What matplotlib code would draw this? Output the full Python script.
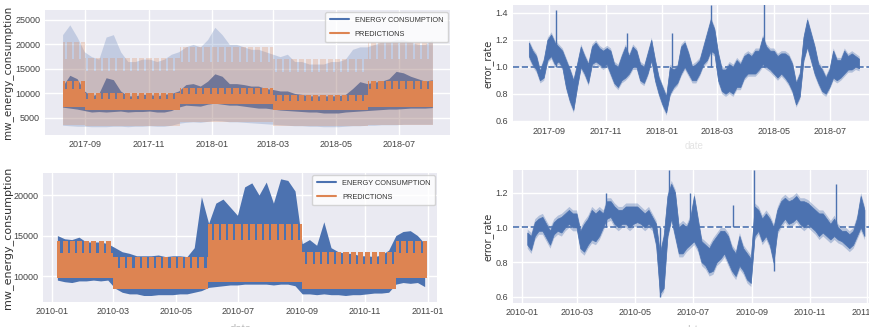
import matplotlib
matplotlib.use('Agg')
import matplotlib.pyplot as plt
import matplotlib.dates as mdates
from matplotlib.lines import Line2D
import numpy as np
import pandas as pd
import seaborn as sns

# ---------------- data ----------------
# top-left: weekly consumption (2017-08-10 .. 2018-08-02)
top_week_start = '2017-08-10'
top_cons_hi = [11500, 13700, 13000, 10500, 9500, 10000, 13200, 12800, 10500, 9500,
               9500, 9800, 9800, 9500, 9800, 10000, 10500, 11800, 12000, 11500,
               12500, 14000, 13500, 12000, 12000, 11800, 11500, 11500, 11000, 10800,
               10500, 10500, 10000, 9800, 9500, 9500, 9500, 9500, 9500, 9800,
               11000, 12400, 12000, 12300, 12500, 13000, 14500, 14200, 13500, 13000,
               12500, 12800]
top_cons_lo = [7200, 7000, 6800, 6500, 6200, 6300, 6200, 6300, 6400, 6200,
               6300, 6300, 6400, 6200, 6200, 6500, 7200, 7600, 7500, 7400,
               7800, 8000, 7800, 7600, 7600, 7400, 7200, 7000, 7000, 6800,
               6600, 6500, 6400, 6300, 6200, 6200, 6000, 6000, 6000, 6200,
               6300, 6400, 6500, 6600, 6700, 6800, 6800, 6900, 7000, 7000,
               7000, 7100]
top_band_hi = [22000, 24000, 21500, 18500, 17500, 17000, 21500, 22000, 18500, 16500,
               16500, 17000, 17000, 16500, 17000, 18000, 18500, 19500, 20000, 19500,
               21000, 23500, 22000, 20000, 20000, 19500, 19000, 19000, 18500, 18000,
               17500, 18000, 16500, 16500, 16000, 16000, 16000, 16500, 16500, 17000,
               19000, 19500, 19500, 20000, 20500, 20500, 21000, 21000, 20500, 20000,
               20000, 21000]
top_band_lo = [3500, 3400, 3300, 3300, 3200, 3200, 3200, 3300, 3300, 3200,
               3300, 3300, 3400, 3300, 3300, 3500, 3900, 4100, 4200, 4100,
               4300, 4500, 4400, 4200, 4200, 4100, 4000, 3900, 3800, 3700,
               3600, 3500, 3400, 3400, 3300, 3300, 3200, 3200, 3200, 3300,
               3400, 3400, 3500, 3500, 3600, 3600, 3600, 3700, 3700, 3700,
               3700, 3700]
# top-left: seasonal prediction profile
top_seasons = ['2017-08-10', '2017-09-01', '2017-12-01', '2018-03-01', '2018-06-01', '2018-08-03']
top_pred_top = [12600, 10000, 11200, 9700, 12600]
top_pred_notch = [11000, 8800, 9900, 8500, 11000]
top_pred_bottom = [7200, 6600, 7800, 6600, 7300]
top_pband_top = [20500, 17200, 19500, 17000, 20500]
top_pband_notch = [17000, 14500, 16500, 14300, 17000]
top_pband_bottom = [3600, 3300, 4200, 3400, 3600]

# bottom-left: weekly consumption (2010-01-06 .. 2010-12-29)
bot_week_start = '2010-01-06'
bot_cons_hi = [15000, 14600, 14500, 14800, 14200, 14200, 14200, 14000, 13500, 13000,
               12800, 12500, 12500, 12500, 12600, 12400, 12500, 12500, 12400, 13500,
               19800, 16500, 19000, 19500, 18500, 17500, 21000, 21500, 20000, 21600,
               19000, 22000, 21800, 20500, 14000, 14500, 13800, 16700, 13500, 13000,
               12800, 12800, 12500, 12500, 12400, 12600, 13200, 15000, 15500, 15600,
               15000, 14000]
bot_cons_lo = [9500, 9300, 9200, 9400, 9400, 9500, 9400, 9500, 8500, 8000,
               7800, 7800, 7600, 7600, 7700, 7700, 7700, 7800, 7800, 8000,
               8200, 8600, 8700, 8800, 8900, 8900, 9000, 9000, 9000, 9000,
               8900, 9000, 9000, 8800, 7800, 7800, 7700, 7800, 7700, 7700,
               7600, 7700, 7700, 7800, 7900, 7900, 8000, 9000, 9200, 9100,
               9200, 8700]
bot_seasons = ['2010-01-06', '2010-03-01', '2010-06-01', '2010-09-01', '2010-12-01', '2010-12-31']
bot_pred_top = [14300, 12400, 16400, 13000, 14300]
bot_pred_notch = [12800, 11000, 14400, 11500, 12800]
bot_pred_bottom = [9800, 8400, 9300, 8400, 9800]

# top-right: error rate, every 4 days from 2017-08-10
top_err_start = '2017-08-10'
top_err_lo = [1.08, 1.02, 0.98, 0.90, 0.92, 1.05, 1.08, 1.02, 1.04, 1.00,
              0.85, 0.75, 0.68, 0.85, 1.00, 0.95, 0.88, 1.02, 1.04, 1.02,
              1.00, 1.02, 0.95, 0.88, 0.85, 0.90, 0.92, 0.95, 1.00, 1.00,
              0.90, 0.88, 0.95, 1.05, 0.90, 0.80, 0.72, 0.66, 0.80, 0.85,
              0.88, 0.95, 1.00, 0.95, 0.90, 0.90, 0.95, 1.02, 1.05, 1.12,
              1.10, 0.90, 0.82, 0.80, 0.82, 0.80, 0.85, 0.85, 0.92, 0.95,
              0.95, 0.95, 0.98, 1.02, 1.00, 0.98, 0.95, 0.92, 0.95, 0.92,
              0.88, 0.82, 0.72, 0.78, 1.05, 1.15, 1.05, 0.95, 0.88, 0.82,
              0.80, 0.85, 0.92, 0.90, 0.92, 0.95, 0.98, 0.98, 1.00, 0.99]
top_err_hi = [1.18, 1.12, 1.08, 0.97, 1.05, 1.20, 1.24, 1.18, 1.15, 1.12,
              1.05, 0.98, 0.90, 1.02, 1.15, 1.08, 1.02, 1.15, 1.18, 1.14,
              1.12, 1.14, 1.12, 1.02, 1.00, 1.08, 1.15, 1.08, 1.15, 1.12,
              1.02, 1.00, 1.10, 1.20, 1.05, 0.92, 0.85, 0.78, 1.00, 0.98,
              1.00, 1.15, 1.18, 1.10, 1.00, 1.02, 1.05, 1.15, 1.25, 1.35,
              1.28, 1.10, 0.98, 0.98, 1.02, 1.00, 1.05, 1.02, 1.08, 1.10,
              1.08, 1.12, 1.12, 1.22, 1.15, 1.12, 1.12, 1.08, 1.10, 1.10,
              1.08, 1.02, 0.88, 0.95, 1.22, 1.35, 1.25, 1.15, 1.02, 0.98,
              0.92, 0.98, 1.12, 1.05, 1.05, 1.12, 1.08, 1.10, 1.08, 1.06]
top_spike_dates = ['2017-09-08', '2017-11-24', '2018-01-11', '2018-02-22', '2018-04-20']
top_spike_vals = [1.42, 1.25, 1.25, 1.46, 1.52]

# bottom-right: error rate, every 4 days from 2010-01-07
bot_err_start = '2010-01-07'
bot_err_lo = [0.90, 0.87, 0.95, 0.98, 0.98, 0.94, 0.90, 0.96, 0.98, 0.97,
              1.00, 1.02, 1.00, 1.00, 0.88, 0.86, 0.90, 0.93, 0.92, 0.95,
              1.00, 1.05, 1.06, 1.02, 1.00, 1.02, 1.02, 1.00, 1.02, 1.03,
              1.02, 1.00, 1.02, 1.00, 0.90, 0.62, 0.65, 0.95, 1.05, 0.95,
              0.85, 0.85, 0.88, 0.90, 0.92, 0.88, 0.80, 0.78, 0.74, 0.75,
              0.80, 0.82, 0.85, 0.80, 0.75, 0.72, 0.78, 0.75, 0.70, 0.68,
              0.95, 0.98, 0.92, 0.95, 0.90, 0.80, 0.98, 1.02, 1.05, 1.02,
              1.03, 1.05, 1.02, 1.00, 1.02, 1.00, 0.98, 0.95, 0.97, 0.95,
              0.93, 0.95, 0.93, 0.92, 0.90, 0.88, 0.90, 0.95, 1.00, 0.95]
bot_err_hi = [0.97, 0.95, 1.03, 1.05, 1.06, 1.02, 0.98, 1.03, 1.05, 1.06,
              1.08, 1.10, 1.08, 1.08, 0.98, 1.02, 1.05, 1.10, 1.08, 1.10,
              1.08, 1.15, 1.15, 1.12, 1.10, 1.10, 1.12, 1.12, 1.12, 1.12,
              1.10, 1.08, 1.10, 1.06, 1.02, 0.85, 0.95, 1.18, 1.25, 1.20,
              1.00, 1.02, 1.00, 1.05, 1.18, 1.05, 0.92, 0.90, 0.88, 0.92,
              0.95, 0.98, 0.98, 0.95, 0.88, 0.85, 0.95, 0.88, 0.85, 0.82,
              1.12, 1.10, 1.05, 1.08, 1.05, 1.00, 1.10, 1.15, 1.17, 1.15,
              1.16, 1.18, 1.15, 1.15, 1.14, 1.12, 1.10, 1.08, 1.08, 1.05,
              1.02, 1.05, 1.00, 0.98, 0.98, 0.96, 0.98, 1.05, 1.18, 1.10]
bot_spike_dates = ['2010-03-31', '2010-05-27', '2010-06-06', '2010-06-28', '2010-08-12',
                   '2010-09-03', '2010-09-25', '2010-11-29']
bot_spike_vals = [1.20, 0.60, 1.33, 1.20, 1.13, 1.33, 0.75, 1.25]

BLUE = '#4C72B0'
ORANGE = '#DD8452'

sns.set_theme(style='darkgrid')
plt.rcParams['font.family'] = ['Liberation Sans', 'DejaVu Sans']
plt.rcParams['axes.facecolor'] = '#EAEAF2'


def draw_pred(ax, seasons, top, notch, bottom, color, alpha, z):
    # seasonal block: continuous base plus weekday teeth
    for k in range(len(top)):
        s = pd.Timestamp(seasons[k])
        e = pd.Timestamp(seasons[k + 1])
        ax.fill_between([s, e], bottom[k], notch[k], color=color, alpha=alpha,
                        lw=0, zorder=z)
        days = pd.date_range(s, e - pd.Timedelta(days=1), freq='D')
        runs = []
        for d in days:
            if d.weekday() < 5:
                if runs and (d - runs[-1][1]).days == 0:
                    runs[-1][1] = d + pd.Timedelta(days=1)
                else:
                    runs.append([d, d + pd.Timedelta(days=1)])
        for a, b in runs:
            ax.fill_between([a, b], notch[k], top[k], color=color, alpha=alpha,
                            lw=0, zorder=z)


def style_ax(ax, xlim, ylim, yticks, ylabel, fmt, lx, lsize):
    ax.set_xlim(pd.Timestamp(xlim[0]), pd.Timestamp(xlim[1]))
    ax.set_ylim(*ylim)
    ax.set_yticks(yticks)
    ax.yaxis.set_major_formatter(plt.FuncFormatter(fmt))
    ax.xaxis.set_major_locator(mdates.MonthLocator(bymonth=[1, 3, 5, 7, 9, 11]))
    ax.xaxis.set_major_formatter(mdates.DateFormatter('%Y-%m'))
    ax.tick_params(axis='both', labelsize=6.5, colors='#444444', length=0, pad=3.5)
    ax.grid(color='white', lw=1)
    ax.set_ylabel(ylabel, fontsize=lsize, color='#333333', family='DejaVu Sans')
    ax.yaxis.set_label_coords(lx, 0.5)
    for sp in ax.spines.values():
        sp.set_visible(False)


fig = plt.figure(figsize=(8.7, 3.27), dpi=100)
ax1 = fig.add_axes([0.0517, 0.587, 0.4655, 0.382])
ax2 = fig.add_axes([0.5897, 0.627, 0.417, 0.358])
ax3 = fig.add_axes([0.0494, 0.0765, 0.4529, 0.394])
ax4 = fig.add_axes([0.5897, 0.0734, 0.417, 0.407])

# top-left
wk = pd.date_range(top_week_start, periods=len(top_cons_hi), freq='7D')
ax1.fill_between(wk, top_band_lo, top_band_hi, color=BLUE, alpha=0.25, lw=0, zorder=1)
ax1.fill_between(wk, top_cons_lo, top_cons_hi, color=BLUE, lw=0, zorder=2)
draw_pred(ax1, top_seasons, top_pband_top, top_pband_notch, top_pband_bottom, ORANGE, 0.25, 3)
draw_pred(ax1, top_seasons, top_pred_top, top_pred_notch, top_pred_bottom, ORANGE, 1.0, 4)
style_ax(ax1, ('2017-07-24', '2018-08-19'), (1500, 27000), [5000, 10000, 15000, 20000, 25000],
         'mw_energy_consumption', lambda v, p: '%d' % v, -0.079, 7.5)

# bottom-left
wk = pd.date_range(bot_week_start, periods=len(bot_cons_hi), freq='7D')
ax3.fill_between(wk, bot_cons_lo, bot_cons_hi, color=BLUE, lw=0, zorder=2)
draw_pred(ax3, bot_seasons, bot_pred_top, bot_pred_notch, bot_pred_bottom, ORANGE, 1.0, 4)
style_ax(ax3, ('2009-12-23', '2011-01-10'), (6800, 22700), [10000, 15000, 20000],
         'mw_energy_consumption', lambda v, p: '%d' % v, -0.076, 8)
ax3.set_xlabel('date', fontsize=8, color='#bbbbbb', labelpad=6)

handles = [Line2D([], [], color=BLUE, lw=1.5), Line2D([], [], color=ORANGE, lw=1.5)]
for ax in (ax1, ax3):
    leg = ax.legend(handles, ['ENERGY CONSUMPTION', 'PREDICTIONS'], loc='upper right',
                    fontsize=5.3, frameon=True, borderaxespad=0.3, handlelength=2.6,
                    labelspacing=0.9, borderpad=0.6)
    leg.get_frame().set_facecolor('white')
    leg.get_frame().set_alpha(0.8)
    leg.get_frame().set_edgecolor('#cccccc')
    for t in leg.get_texts():
        t.set_color('#333333')

# error rate panels
for ax, start, lo, hi, sd, sv, xlim, ylim, yt in [
        (ax2, top_err_start, top_err_lo, top_err_hi, top_spike_dates, top_spike_vals,
         ('2017-07-24', '2018-08-19'), (0.59, 1.46), [0.6, 0.8, 1.0, 1.2, 1.4]),
        (ax4, bot_err_start, bot_err_lo, bot_err_hi, bot_spike_dates, bot_spike_vals,
         ('2009-12-23', '2011-01-10'), (0.565, 1.33), [0.6, 0.8, 1.0, 1.2])]:
    d = pd.date_range(start, periods=len(lo), freq='4D')
    ax.fill_between(d, np.array(lo) - 0.02, np.array(hi) + 0.02, color=BLUE, alpha=0.35, lw=0, zorder=2)
    ax.fill_between(d, lo, hi, color=BLUE, lw=0.5, zorder=3)
    ax.vlines(pd.to_datetime(sd), 1.0, sv, color=BLUE, lw=1.0, zorder=3)
    ax.axhline(1.0, color=BLUE, ls='--', lw=1.2, zorder=4)
    style_ax(ax, xlim, ylim, yt, 'error_rate', lambda v, p: '%.1f' % v, -0.052, 7)
ax2.set_xlabel('date', fontsize=7, color='#e4e4e4', labelpad=4)
ax4.set_xlabel('date', fontsize=7, color='#bbbbbb', labelpad=6)

fig.savefig('out.png', dpi=100)
